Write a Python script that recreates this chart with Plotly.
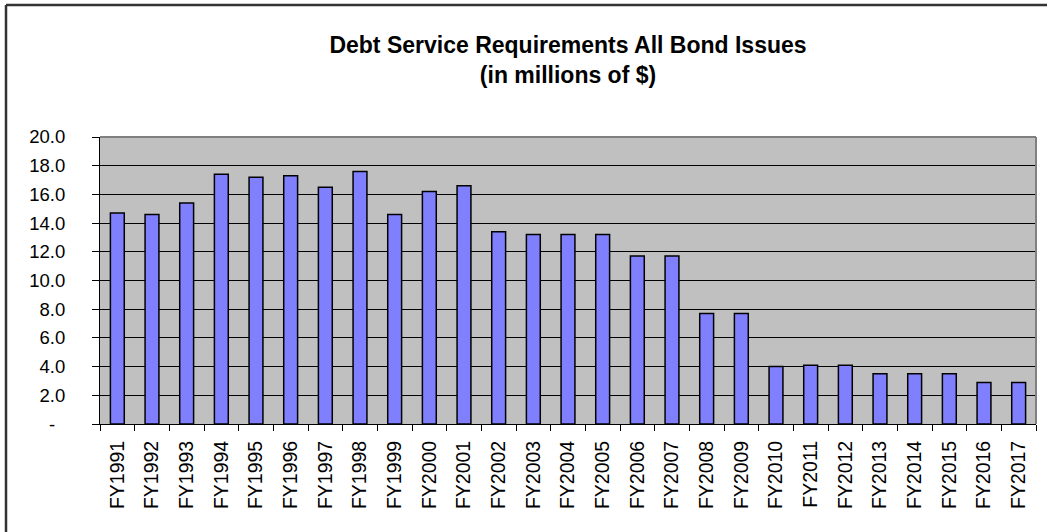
import plotly.graph_objects as go

categories = ["FY1991", "FY1992", "FY1993", "FY1994", "FY1995", "FY1996", "FY1997",
              "FY1998", "FY1999", "FY2000", "FY2001", "FY2002", "FY2003", "FY2004",
              "FY2005", "FY2006", "FY2007", "FY2008", "FY2009", "FY2010", "FY2011",
              "FY2012", "FY2013", "FY2014", "FY2015", "FY2016", "FY2017"]
values = [14.7, 14.6, 15.4, 17.4, 17.2, 17.3, 16.5, 17.6, 14.6, 16.2, 16.6, 13.4, 13.2,
          13.2, 13.2, 11.7, 11.7, 7.7, 7.7, 4.0, 4.1, 4.1, 3.5, 3.5, 3.5, 2.9, 2.9]
y_tick_vals = [0, 2, 4, 6, 8, 10, 12, 14, 16, 18, 20]
y_tick_text = ["", "2.0", "4.0", "6.0", "8.0", "10.0", "12.0",
               "14.0", "16.0", "18.0", "20.0"]
zero_label = "-"

W, H = 1047, 532
L, R, T, B = 100, 11, 137, 108
pw, ph = W - L - R, H - T - B

fig = go.Figure(go.Bar(
    x=categories, y=values,
    marker=dict(color="#8080FF", line=dict(color="black", width=1.5)),
))

def px_x(x):
    return (x - L) / pw

def px_y(y):
    return (H - B - y) / ph

fig.update_layout(
    width=W, height=H,
    margin=dict(l=L, r=R, t=T, b=B, autoexpand=False),
    paper_bgcolor="white",
    plot_bgcolor="#C0C0C0",
    bargap=0.6,
    showlegend=False,
    font=dict(family="Liberation Sans, Arial, sans-serif", size=18.5, color="black"),
    title=dict(
        text="<b>Debt Service Requirements All Bond Issues<br>(in millions of $)</b>",
        x=0.5, xanchor="center", xref="paper",
        y=1 - 53 / H, yanchor="middle", yref="container",
        font=dict(size=23, color="black"),
    ),
    xaxis=dict(
        type="category",
        tickangle=-90,
        ticks="outside", ticklen=6, tickcolor="black", tickwidth=1,
        tickson="boundaries",
        ticklabelstandoff=8,
        showline=True, linecolor="black", linewidth=1,
        showgrid=False,
        tickfont=dict(size=19.5),
        range=[-0.5, len(categories) - 0.5],
    ),
    yaxis=dict(
        range=[0, 20],
        tickvals=y_tick_vals, ticktext=y_tick_text,
        ticks="outside", ticklen=7, tickcolor="black", tickwidth=1,
        ticklabelstandoff=23,
        showline=True, linecolor="black", linewidth=1,
        showgrid=True, gridcolor="black", gridwidth=1,
        zeroline=False,
        tickfont=dict(size=18.5),
    ),
    annotations=[
        dict(text=zero_label, x=px_x(57), xref="paper", xanchor="right",
             y=0, yref="y", yanchor="middle", showarrow=False,
             font=dict(size=18.5, color="black")),
    ],
    shapes=[
        dict(type="line", xref="paper", yref="paper", x0=0, x1=1, y0=1, y1=1,
             line=dict(color="#808080", width=2), layer="above"),
        dict(type="line", xref="paper", yref="paper", x0=1, x1=1, y0=0, y1=1,
             line=dict(color="#808080", width=2), layer="above"),
        dict(type="line", xref="paper", yref="paper",
             x0=px_x(6), x1=px_x(W + 5), y0=px_y(5), y1=px_y(5),
             line=dict(color="#333333", width=2.5), layer="above"),
        dict(type="line", xref="paper", yref="paper",
             x0=px_x(6), x1=px_x(6), y0=px_y(5), y1=px_y(H + 5),
             line=dict(color="#333333", width=2.5), layer="above"),
    ],
)

fig.write_html("out.html", config={"displayModeBar": False},
               post_script="document.body.style.margin='0';")
